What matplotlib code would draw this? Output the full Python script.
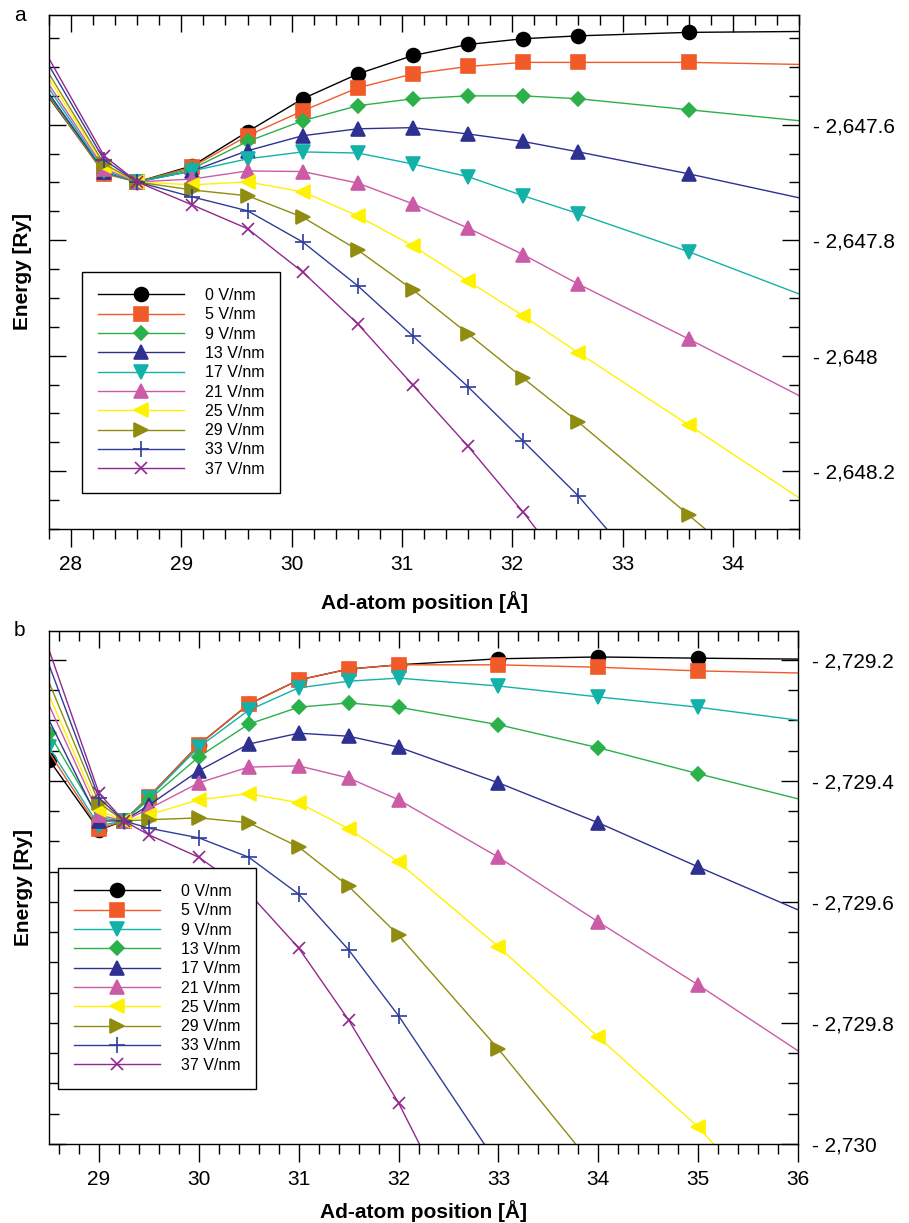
import matplotlib
matplotlib.use("Agg")
import matplotlib.pyplot as plt
from matplotlib.ticker import MultipleLocator, FuncFormatter

plt.rcParams['font.family'] = ['Liberation Sans', 'DejaVu Sans']

fields = ["0 V/nm", "5 V/nm", "9 V/nm", "13 V/nm", "17 V/nm",
          "21 V/nm", "25 V/nm", "29 V/nm", "33 V/nm", "37 V/nm"]

# ---- panel a data (ad-atom position [A], energy [Ry]) ----
x_a = [27.6, 28.3, 28.6, 29.1, 29.6, 30.1, 30.6, 31.1, 31.6, 32.1, 32.6, 33.6, 35.6]
a_0 = [-2647.501, -2647.683, -2647.699, -2647.671, -2647.612, -2647.555, -2647.512,
       -2647.480, -2647.461, -2647.451, -2647.446, -2647.440, -2647.437]
a_5 = [-2647.498, -2647.685, -2647.699, -2647.673, -2647.619, -2647.576, -2647.536,
       -2647.512, -2647.499, -2647.492, -2647.492, -2647.492, -2647.499]
a_9 = [-2647.496, -2647.683, -2647.699, -2647.676, -2647.629, -2647.593, -2647.567,
       -2647.555, -2647.550, -2647.550, -2647.555, -2647.574, -2647.612]
a_13 = [-2647.492, -2647.681, -2647.699, -2647.680, -2647.645, -2647.619, -2647.607,
        -2647.605, -2647.616, -2647.629, -2647.647, -2647.685, -2647.768]
a_17 = [-2647.480, -2647.680, -2647.699, -2647.680, -2647.659, -2647.647, -2647.649,
        -2647.668, -2647.690, -2647.723, -2647.754, -2647.820, -2647.966]
a_21 = [-2647.472, -2647.676, -2647.699, -2647.694, -2647.680, -2647.681, -2647.701,
        -2647.737, -2647.779, -2647.825, -2647.876, -2647.971, -2648.167]
a_25 = [-2647.460, -2647.671, -2647.699, -2647.704, -2647.699, -2647.716, -2647.758,
        -2647.810, -2647.871, -2647.931, -2647.995, -2648.120, -2648.372]
a_29 = [-2647.449, -2647.668, -2647.699, -2647.713, -2647.723, -2647.760, -2647.817,
        -2647.886, -2647.962, -2648.039, -2648.115, -2648.276, -2648.599]
a_33 = [-2647.432, -2647.661, -2647.699, -2647.725, -2647.749, -2647.803, -2647.879,
        -2647.966, -2648.054, -2648.148, -2648.243, -2648.465]
a_37 = [-2647.418, -2647.654, -2647.699, -2647.739, -2647.780, -2647.855, -2647.945,
        -2648.051, -2648.157, -2648.271, -2648.396]

# ---- panel b data ----
# first point sits on the left edge (28.5) for some curves, just outside (28.4) for others
x_b = [28.5, 29.0, 29.25, 29.5, 30.0, 30.5, 31.0, 31.5, 32.0, 33.0, 34.0, 35.0, 37.0]
x_b2 = [28.4, 29.0, 29.25, 29.5, 30.0, 30.5, 31.0, 31.5, 32.0, 33.0, 34.0, 35.0, 37.0]
b_0 = [-2729.365, -2729.481, -2729.466, -2729.426, -2729.340, -2729.273, -2729.233,
       -2729.215, -2729.208, -2729.198, -2729.195, -2729.197, -2729.200]
b_5 = [-2729.327, -2729.479, -2729.466, -2729.426, -2729.340, -2729.273, -2729.233,
       -2729.215, -2729.208, -2729.208, -2729.212, -2729.218, -2729.225]
b_9 = [-2729.344, -2729.474, -2729.466, -2729.428, -2729.344, -2729.283, -2729.246,
       -2729.235, -2729.230, -2729.243, -2729.261, -2729.278, -2729.321]
b_13 = [-2729.321, -2729.461, -2729.466, -2729.431, -2729.360, -2729.306, -2729.278,
        -2729.271, -2729.278, -2729.307, -2729.345, -2729.388, -2729.471]
b_17 = [-2729.266, -2729.466, -2729.466, -2729.440, -2729.383, -2729.339, -2729.321,
        -2729.326, -2729.344, -2729.403, -2729.469, -2729.542, -2729.684]
b_21 = [-2729.238, -2729.456, -2729.466, -2729.446, -2729.403, -2729.377, -2729.375,
        -2729.395, -2729.431, -2729.526, -2729.633, -2729.737, -2729.955]
b_25 = [-2729.220, -2729.448, -2729.466, -2729.456, -2729.431, -2729.421, -2729.436,
        -2729.479, -2729.534, -2729.674, -2729.823, -2729.972, -2730.336]
b_29 = [-2729.197, -2729.436, -2729.466, -2729.464, -2729.461, -2729.469, -2729.509,
        -2729.574, -2729.655, -2729.843, -2730.046]
b_33 = [-2729.164, -2729.428, -2729.466, -2729.478, -2729.494, -2729.526, -2729.587,
        -2729.679, -2729.788, -2730.035]
b_37 = [-2729.136, -2729.420, -2729.466, -2729.489, -2729.526, -2729.585, -2729.676,
        -2729.795, -2729.932, -2730.258]

series_a = [a_0, a_5, a_9, a_13, a_17, a_21, a_25, a_29, a_33, a_37]
xs_a = [x_a] * 10
series_b = [b_0, b_5, b_9, b_13, b_17, b_21, b_25, b_29, b_33, b_37]
xs_b = [x_b, x_b2, x_b, x_b, x_b2, x_b2, x_b2, x_b2, x_b2, x_b2]

# styles (marker, colour, size)
BLACK, ORANGE, GREEN, NAVY, CYAN = '#000000', '#F15A29', '#2BB04A', '#2E3192', '#13B1A8'
PINK, YELLOW, OLIVE, BLUE, PURPLE = '#CB5BA6', '#FFF200', '#8F8C10', '#2E3C9A', '#92278F'
style_a = [('o', BLACK, 10), ('s', ORANGE, 9.5), ('D', GREEN, 7.5), ('^', NAVY, 9.5),
           ('v', CYAN, 9.5), ('^', PINK, 9.5), ('<', YELLOW, 9.5), ('>', OLIVE, 9.5),
           ('+', BLUE, 11), ('x', PURPLE, 9)]
style_b = [('o', BLACK, 10), ('s', ORANGE, 9.5), ('v', CYAN, 9.5), ('D', GREEN, 7.5),
           ('^', NAVY, 9.5), ('^', PINK, 9.5), ('<', YELLOW, 9.5), ('>', OLIVE, 9.5),
           ('+', BLUE, 11), ('x', PURPLE, 9)]


def energy_fmt(v, pos):
    s = f"{abs(round(v, 3)):,.1f}"
    if s.endswith('.0'):
        s = s[:-2]
    return "- " + s


def draw_panel(ax, xs_list, series, styles, xlim, ylim, leg_anchor, xlab_y, letter):
    for xs, ys, (mk, col, ms), lab in zip(xs_list, series, styles, fields):
        ax.plot(xs[:len(ys)], ys, color=col, lw=1.0, marker=mk, ms=ms,
                mfc=col, mec=col, mew=1.2, label=lab)
    ax.set_xlim(*xlim)
    ax.set_ylim(*ylim)

    ax.xaxis.set_major_locator(MultipleLocator(1))
    ax.xaxis.set_minor_locator(MultipleLocator(0.2))
    ax.yaxis.set_major_locator(MultipleLocator(0.2))
    ax.yaxis.set_minor_locator(MultipleLocator(0.05))
    ax.yaxis.set_major_formatter(FuncFormatter(energy_fmt))

    ax.tick_params(axis='x', which='both', direction='out', bottom=True, top=False,
                   labelsize=15, width=1.0, pad=6)
    ax.tick_params(axis='x', which='major', length=13)
    ax.tick_params(axis='x', which='minor', length=7)
    ax.tick_params(axis='y', which='both', direction='in', left=True, right=True,
                   labelleft=False, labelright=True, labelsize=15, width=1.0, pad=10)
    ax.tick_params(axis='y', which='major', length=12)
    ax.tick_params(axis='y', which='minor', length=7)

    top = ax.secondary_xaxis('top')
    top.xaxis.set_major_locator(MultipleLocator(1))
    top.xaxis.set_minor_locator(MultipleLocator(0.2))
    top.tick_params(axis='x', which='both', direction='in', labeltop=False, width=1.0)
    top.tick_params(axis='x', which='major', length=12)
    top.tick_params(axis='x', which='minor', length=7)

    for sp in ax.spines.values():
        sp.set_linewidth(1.0)

    ax.set_xlabel("Ad-atom position [Å]", fontsize=15, fontweight='bold')
    ax.xaxis.set_label_coords(0.5, xlab_y)
    ax.set_ylabel("Energy [Ry]", fontsize=15, fontweight='bold')
    ax.yaxis.set_label_coords(-0.022, 0.5)

    leg = ax.legend(loc='upper left', bbox_to_anchor=leg_anchor, fontsize=11.5,
                    numpoints=1, handlelength=5.4, handletextpad=1.3,
                    labelspacing=0.27, borderpad=1.0, fancybox=False,
                    edgecolor='black', framealpha=1, borderaxespad=0)
    leg.get_frame().set_linewidth(1.0)

    ax.text(-0.047, 1.0, letter, transform=ax.transAxes, fontsize=15,
            ha='left', va='center')


fig = plt.figure(figsize=(9.09, 12.23), dpi=100)
ax_a = fig.add_axes([0.0539, 0.5675, 0.8251, 0.4202])
ax_b = fig.add_axes([0.0539, 0.0646, 0.8240, 0.4195])

draw_panel(ax_a, xs_a, series_a, style_a, (27.8, 34.6), (-2648.3, -2647.41),
           (0.044, 0.5), -0.12, 'a')
draw_panel(ax_b, xs_b, series_b, style_b, (28.5, 36.0), (-2730.0, -2729.152),
           (0.012, 0.538), -0.11, 'b')

fig.savefig("out.png", dpi=100)
